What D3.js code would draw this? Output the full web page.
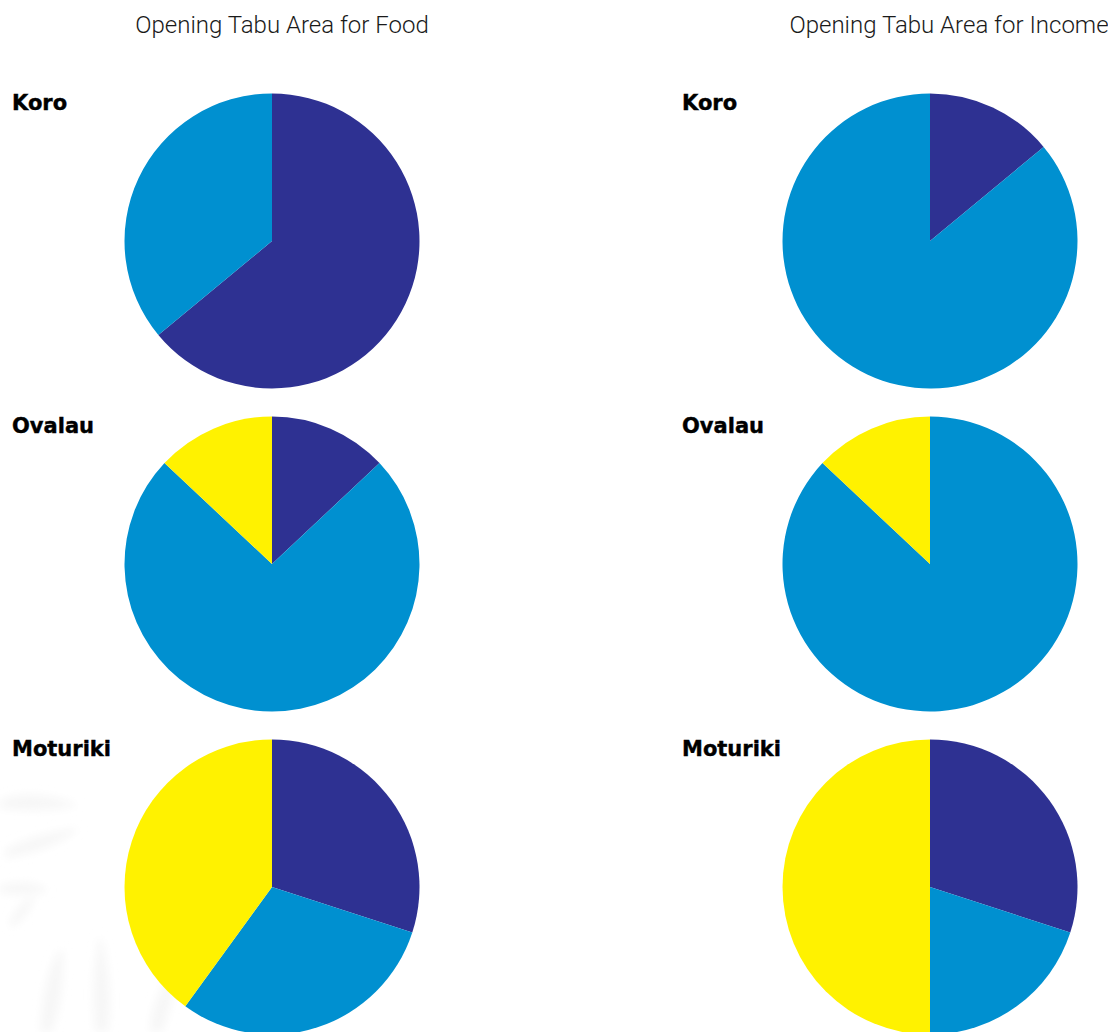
<!DOCTYPE html>
<html>
<head>
<meta charset="utf-8">
<script src="https://cdn.jsdelivr.net/npm/d3@7"></script>
<style>
  html, body { margin: 0; padding: 0; background: #ffffff; }
  svg { display: block; }
</style>
</head>
<body>
<script>
// Sites shown in each column, top to bottom
const sites = ["Koro", "Ovalau", "Moturiki"];
// Panels (one column each)
const panels = ["Food", "Income"];
const panelTitles = ["Opening Tabu Area for Food", "Opening Tabu Area for Income"];
// Response groups (slice order, clockwise from 12 o'clock)
const groups = ["group1", "group2", "group3"];
const groupColors = ["#2e3192", "#0090d0", "#fff200"];

// Percentages per site, in the order of `groups`
const foodValues = [
  [64, 36, 0],   // Koro
  [13, 74, 13],  // Ovalau
  [30, 30, 40]   // Moturiki
];
const incomeValues = [
  [14, 86, 0],   // Koro
  [0, 87, 13],   // Ovalau
  [30, 20, 50]   // Moturiki
];

const W = 1108, H = 1032;
const radius = 147.5;

const svg = d3.select("body").append("svg")
  .attr("width", W).attr("height", H);

// faint background leaf motif in the lower-left corner
const defs = svg.append("defs");
defs.append("filter").attr("id", "soft")
  .append("feGaussianBlur").attr("stdDeviation", 4);
const motif = svg.append("g").attr("fill", "#f7f7f7").attr("filter", "url(#soft)");
[
  "M0,800 C25,790 55,795 78,805 C55,812 25,812 0,808 Z",
  "M5,850 C30,835 60,830 80,828 C60,845 30,855 5,858 Z",
  "M0,885 C20,880 38,882 48,890 C35,896 15,895 0,893 Z",
  "M10,920 C18,905 28,898 35,895 C32,910 22,922 10,928 Z",
  "M40,1032 C42,990 50,960 62,948 C66,975 60,1010 52,1032 Z",
  "M95,1032 C92,1000 92,965 100,935 C110,965 112,1000 108,1032 Z",
  "M150,1032 C150,1010 160,985 175,970 C176,995 168,1015 162,1032 Z"
].forEach(d => motif.append("path").attr("d", d));

const xCol = d3.scalePoint().domain(panels).range([272, 930]);
const yRow = d3.scalePoint().domain(sites).range([241, 887]);
const color = d3.scaleOrdinal().domain(groups).range(groupColors);

const pie = d3.pie().sort(null).value(d => d.value);
const arc = d3.arc().innerRadius(0).outerRadius(radius);

const panelData = [foodValues, incomeValues];
const labelX = [12, 682];

panels.forEach((panel, pi) => {
  const cx = xCol(panel);

  // panel title
  svg.append("text")
    .attr("x", cx + (pi === 0 ? 10 : 19))
    .attr("y", 33)
    .attr("text-anchor", "middle")
    .style("font-family", "Roboto, 'Liberation Sans', sans-serif")
    .style("font-weight", 300)
    .style("font-size", "24px")
    .style("fill", "#1a1a1a")
    .text(panelTitles[pi]);

  sites.forEach((site, si) => {
    const cy = yRow(site);
    const rows = groups.map((g, gi) => ({ key: g, value: panelData[pi][si][gi] }));

    // site label
    svg.append("text")
      .attr("x", labelX[pi])
      .attr("y", cy - 131.5)
      .style("font-family", "'DejaVu Sans', sans-serif")
      .style("font-weight", "bold")
      .style("font-size", "21px")
      .style("fill", "#000")
      .style("stroke", "#000")
      .style("stroke-width", 0.4)
      .text(site);

    svg.append("g")
      .attr("transform", `translate(${cx},${cy})`)
      .selectAll("path")
      .data(pie(rows).filter(d => d.data.value > 0))
      .join("path")
      .attr("d", arc)
      .attr("fill", d => color(d.data.key));
  });
});
</script>
</body>
</html>
